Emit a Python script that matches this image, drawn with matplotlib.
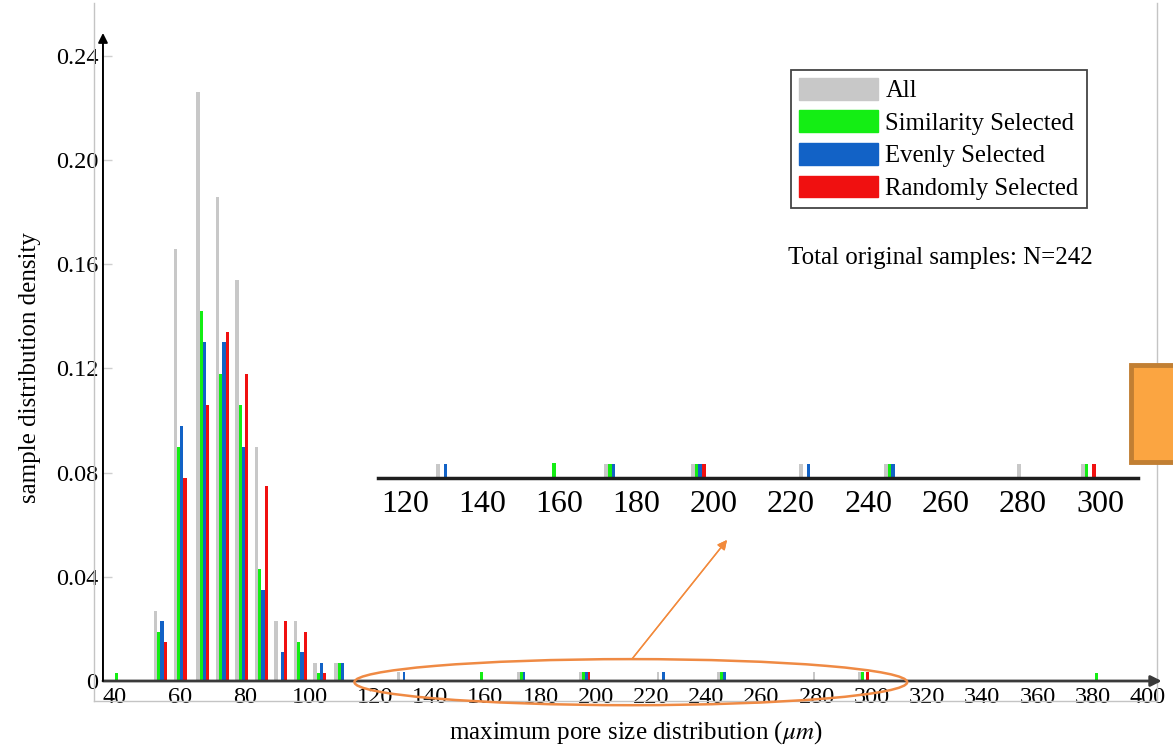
import numpy as np
import matplotlib.pyplot as plt
from matplotlib.patches import Patch, Ellipse, Rectangle

plt.rcParams['font.family'] = ['Liberation Serif', 'DejaVu Serif']
plt.rcParams['mathtext.fontset'] = 'stix'

# bin centres (um) and densities
centers = [41, 54, 60, 67, 73, 79, 85, 91, 97, 103, 109.5,
           130, 159, 173.5, 196, 224, 246, 280.5, 297, 382]
all_vals = [0, 0.027, 0.166, 0.226, 0.186, 0.154, 0.090, 0.023, 0.023, 0.007, 0.007,
            0.0035, 0, 0.0035, 0.0035, 0.0035, 0.0035, 0.0035, 0.0035, 0]
sim_vals = [0.003, 0.019, 0.090, 0.142, 0.118, 0.106, 0.043, 0, 0.015, 0.003, 0.007,
            0, 0.0036, 0.0035, 0.0035, 0, 0.0035, 0, 0.0035, 0.003]
even_vals = [0, 0.023, 0.098, 0.130, 0.130, 0.090, 0.035, 0.011, 0.011, 0.007, 0.007,
             0.0035, 0, 0.0035, 0.0035, 0.0035, 0.0035, 0, 0, 0]
rand_vals = [0, 0.015, 0.078, 0.106, 0.134, 0.118, 0.075, 0.023, 0.019, 0.003, 0,
             0, 0, 0, 0.0035, 0, 0, 0, 0.0035, 0]

series = [('All', all_vals, '#c8c8c8'),
          ('Similarity Selected', sim_vals, '#14ee14'),
          ('Evenly Selected', even_vals, '#1262c6'),
          ('Randomly Selected', rand_vals, '#f01010')]

xticks = list(range(40, 401, 20))
yticks = [0, 0.04, 0.08, 0.12, 0.16, 0.20, 0.24]
ytick_labels = ['0', '0.04', '0.08', '0.12', '0.16', '0.20', '0.24']
inset_ticks = list(range(120, 301, 20))

# the 40-120 part of the axis is stretched compared to the rest
K = 1.1775


def fwd(x):
    x = np.asarray(x, dtype=float)
    return np.where(x < 120, 120 - (120 - x) * K, x)


def inv(u):
    u = np.asarray(u, dtype=float)
    return np.where(u < 120, 120 - (120 - u) / K, u)


fig = plt.figure(figsize=(11.73, 7.52), dpi=100)
W, H = 1173.0, 752.0
ax = fig.add_axes([94 / W, 1 - 701 / H, (1157 - 94) / W, (701 - 3) / H])
ax.set_xscale('function', functions=(fwd, inv))
ax.set_xlim(33.54, 403.3)
ax.set_ylim(-0.00768, 0.2603)

bw = 1.0
offs = [-1.5, -0.5, 0.5, 1.5]


def draw_bars(a):
    for (name, vals, col), o in zip(series, offs):
        a.bar(np.array(centers) + o * bw, vals, width=bw, color=col, linewidth=0, label=name)


draw_bars(ax)

for s in ['left', 'right', 'bottom']:
    ax.spines[s].set_color('#c4c4c4')
    ax.spines[s].set_linewidth(1)
ax.spines['top'].set_visible(False)

ax.set_xticks(xticks)
ax.set_xticklabels([str(t) for t in xticks])
ax.set_yticks(yticks)
ax.set_yticklabels(ytick_labels)
ax.tick_params(axis='x', length=0, pad=-10, labelsize=17.5)
ax.tick_params(axis='y', length=0, pad=-3, labelsize=17.5)

# drawn axes with arrows
x0 = 36.3
ax.annotate('', xy=(405, 0), xytext=(x0, 0), annotation_clip=False,
            arrowprops=dict(arrowstyle='-|>', color='#3a3a3a', lw=2, mutation_scale=16,
                            shrinkA=0, shrinkB=0))
ax.annotate('', xy=(x0, 0.2488), xytext=(x0, 0), annotation_clip=False,
            arrowprops=dict(arrowstyle='-|>', color='black', lw=1.4, mutation_scale=14,
                            shrinkA=0, shrinkB=0))
ax.hlines(yticks[1:], x0, x0 + 2.7, color='#cfcfcf', lw=1)

leg = ax.legend(handles=[Patch(color=c, label=n) for n, v, c in series],
                loc='upper left', bbox_to_anchor=(791 / W, 1 - 70 / H),
                bbox_transform=fig.transFigure, fontsize=17.8, frameon=True,
                fancybox=False, handlelength=3.2, handleheight=0.98,
                labelspacing=0.33, borderpad=0.32, handletextpad=0.3, borderaxespad=0)
leg.get_frame().set_edgecolor('#444444')
leg.get_frame().set_linewidth(1.3)
leg.get_frame().set_alpha(1)

fig.text(788 / W, 1 - 258 / H, 'Total original samples: N=242', fontsize=18,
         ha='left', va='center')
fig.text(30 / W, 1 - 368 / H, 'sample distribution density', fontsize=18,
         rotation=90, ha='center', va='center')
fig.text(636 / W, 1 - 733 / H, r'maximum pore size distribution ($\mu m$)', fontsize=18,
         ha='center', va='center')

# zoomed inset of the tail
axins = fig.add_axes([378 / W, 1 - 478 / H, 760 / W, 24 / H])
draw_bars(axins)
axins.set_xlim(113.0, 309.85)
axins.set_ylim(0, 0.0058)
for s in ['left', 'right', 'top']:
    axins.spines[s].set_visible(False)
axins.spines['bottom'].set_color('#1e1e1e')
axins.spines['bottom'].set_linewidth(2.5)
axins.set_yticks([])
axins.set_xticks(inset_ticks)
axins.set_xticklabels([str(t) for t in inset_ticks])
axins.tick_params(axis='x', length=0, pad=9, labelsize=23)
axins.patch.set_alpha(0)

# orange ellipse and arrow
ell = Ellipse((0.505, 0.027), 0.520, 0.066, transform=ax.transAxes, fill=False,
              edgecolor='#ef8a44', lw=1.8, clip_on=False, zorder=10)
ax.add_patch(ell)
fig.add_artist(plt.annotate('', xy=(727 / W, 1 - 540 / H), xytext=(632 / W, 1 - 659 / H),
                            xycoords='figure fraction', textcoords='figure fraction',
                            arrowprops=dict(arrowstyle='-|>', color='#f28a3c', lw=1,
                                            mutation_scale=14, shrinkA=0, shrinkB=0)))

fig.add_artist(Rectangle((1131 / W, 1 - 462 / H), 60 / W, 97 / H, transform=fig.transFigure,
                         facecolor='#fba541', edgecolor='#c17f33', lw=3.5, clip_on=False))

plt.savefig('out.png', dpi=100)
